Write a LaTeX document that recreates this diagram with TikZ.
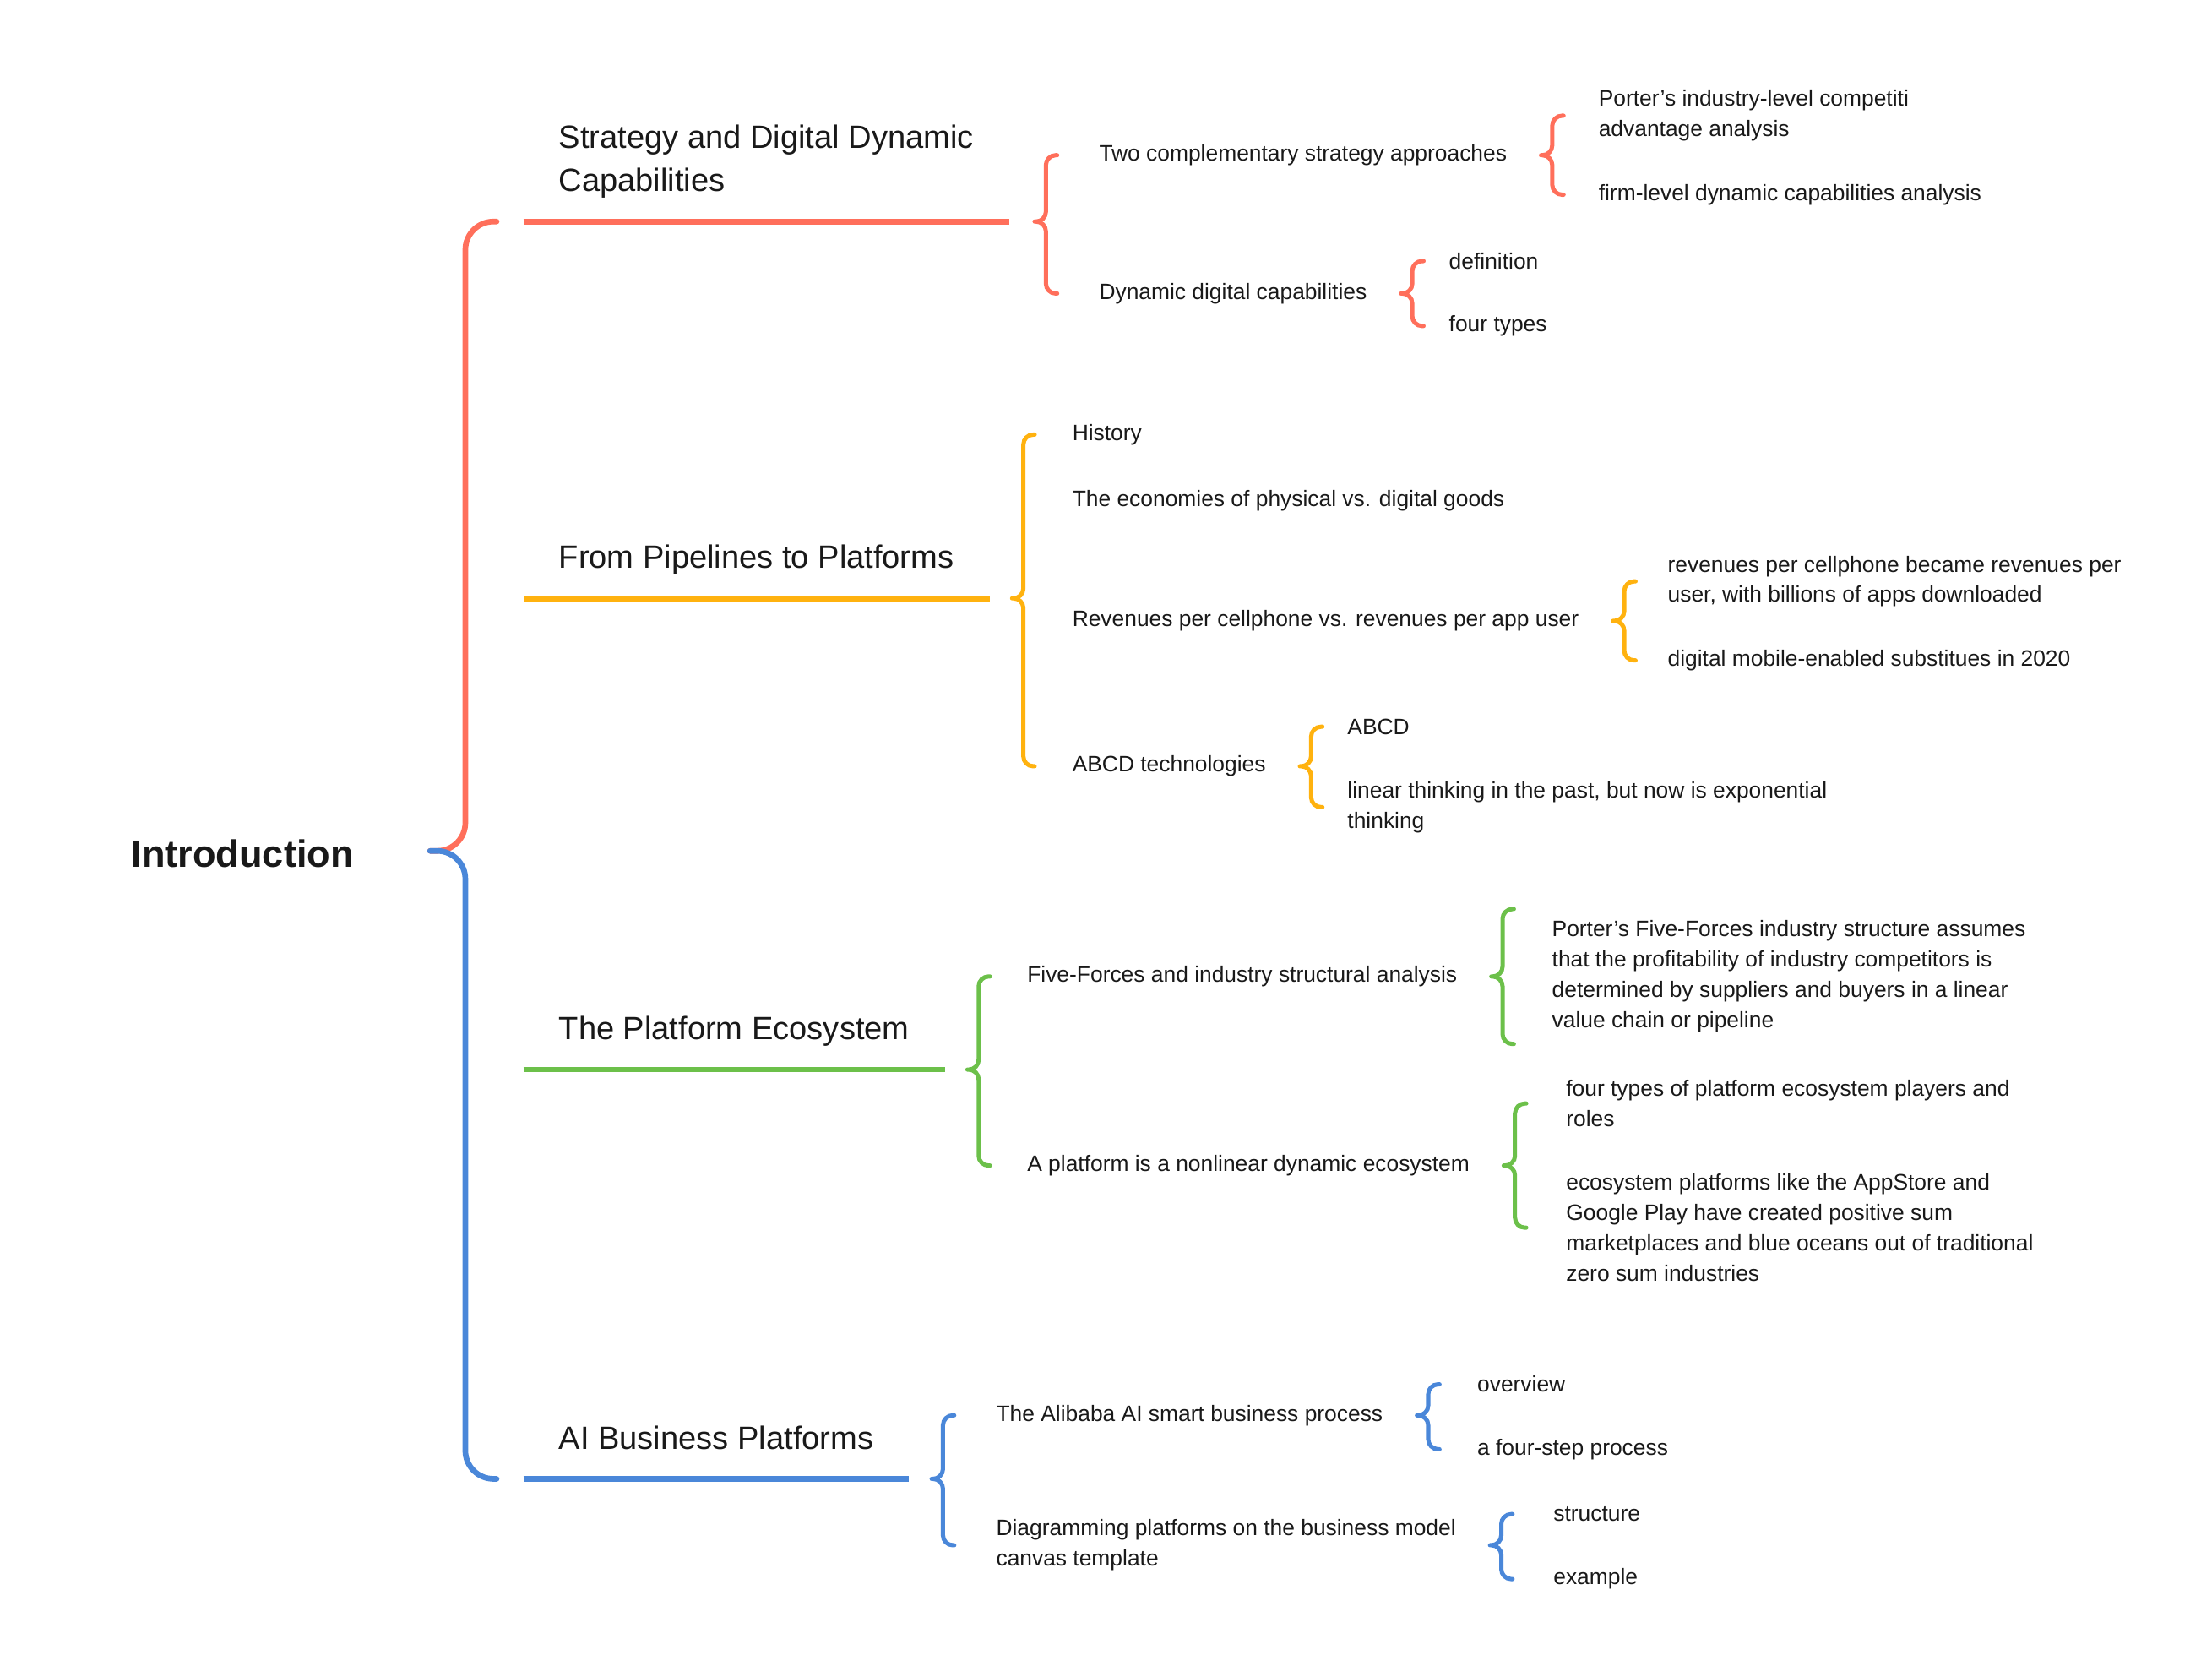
\documentclass[tikz,border=0pt]{standalone}
\usepackage{fontspec}
\setmainfont{Liberation Sans}
\usepackage{tikz}
\usetikzlibrary{calc}
\usepackage{xcolor}
\definecolor{mapred}{HTML}{FF6F5B}
\definecolor{mapyellow}{HTML}{FFB20F}
\definecolor{mapgreen}{HTML}{6CC04A}
\definecolor{mapblue}{HTML}{4A87D9}

% brace from a tip to the top and bottom child
\newcommand{\topicbrace}[4]{%
  \draw[subbrace, #1] let \p1=(#2), \p2=(#3), \p3=(#4) in
    (\p1) -- (\x1+8pt,\y1) -- (\x1+8pt,\y2) -- (\x1+16pt,\y2)
    (\p1) -- (\x1+8pt,\y1) -- (\x1+8pt,\y3) -- (\x1+16pt,\y3);
}

\begin{document}
\begin{tikzpicture}[
  x=1pt, y=-1pt,
  topic/.style={anchor=west, inner sep=0pt, align=left,
    font=\fontsize{15.8}{21.5}\selectfont, text=black!90},
  mainbranch/.style={anchor=south west, inner xsep=25pt, inner ysep=16pt,
    text depth=5pt, align=left, font=\fontsize{22.8}{31}\selectfont,
    text=black!90},
  rootnode/.style={anchor=west, inner sep=0pt,
    font=\fontsize{27}{32}\selectfont\bfseries, text=black!90},
  underline/.style={line width=4pt},
  bigbrace/.style={line width=4pt, rounded corners=20pt, line cap=round},
  subbrace/.style={line width=3pt, rounded corners=7pt, line cap=round}
]
  \useasboundingbox (0,0) rectangle (1568,1188);

  % Root
  \node[rootnode] (intro) at (93,605) {Introduction};
  \coordinate (tipR) at ($(intro.east)+(54,-2)$);

  % Main branches
  \node[mainbranch] (strat) at (371,157)
    {Strategy and Digital Dynamic\\Capabilities};
  \node[mainbranch] (pipe) at (371,424) {From Pipelines to Platforms};
  \node[mainbranch] (eco) at (371,758) {The Platform Ecosystem};
  \node[mainbranch] (aibiz) at (371,1048) {AI Business Platforms};
  \draw[underline, mapred] (strat.south west) -- (strat.south east);
  \draw[underline, mapyellow] (pipe.south west) -- (pipe.south east);
  \draw[underline, mapgreen] (eco.south west) -- (eco.south east);
  \draw[underline, mapblue] (aibiz.south west) -- (aibiz.south east);

  \draw[bigbrace, mapred] let \p1=(tipR), \p2=(strat.south west) in
    (\p1) -- (\x1+25pt,\y1) -- (\x1+25pt,\y2) -- (\x2-19pt,\y2);
  \draw[bigbrace, mapblue] let \p1=(tipR), \p2=(aibiz.south west) in
    (\p1) -- (\x1+25pt,\y1) -- (\x1+25pt,\y2) -- (\x2-19pt,\y2);

  % Strategy and Digital Dynamic Capabilities
  \node[topic] (twoc) at (779,110) {Two complementary strategy approaches};
  \node[topic] (ddc) at (779,208) {Dynamic digital capabilities};
  \node[topic] (portera) at (1133,82)
    {Porter's industry-level competiti\\advantage analysis};
  \node[topic] (firm) at (1133,138) {firm-level dynamic capabilities analysis};
  \node[topic] (defn) at (1027,185) {definition};
  \node[topic] (fourt) at (1027,231) {four types};
  \coordinate (tipA) at ($(strat.south east)+(18,0)$);
  \coordinate (tipB) at ($(twoc.east)+(24,0)$);
  \coordinate (tipC) at ($(ddc.east)+(24,0)$);
  \topicbrace{mapred}{tipA}{twoc.west}{ddc.west}
  \topicbrace{mapred}{tipB}{portera.west}{firm.west}
  \topicbrace{mapred}{tipC}{defn.west}{fourt.west}

  % From Pipelines to Platforms
  \node[topic] (hist) at (760,308) {History};
  \node[topic] (econ) at (760,355) {The economies of physical vs. digital goods};
  \node[topic] (rev) at (760,440) {Revenues per cellphone vs. revenues per app user};
  \node[topic] (abcd) at (760,543) {ABCD technologies};
  \node[topic] (revb) at (1182,412)
    {revenues per cellphone became revenues per\\user, with billions of apps downloaded};
  \node[topic] (subs) at (1182,468) {digital mobile-enabled substitues in 2020};
  \node[topic] (abcdc) at (955,515) {ABCD};
  \node[topic] (linear) at (955,572)
    {linear thinking in the past, but now is exponential\\thinking};
  \coordinate (tipD) at ($(pipe.south east)+(16,0)$);
  \coordinate (tipE) at ($(rev.east)+(24,0)$);
  \coordinate (tipF) at ($(abcd.east)+(24,0)$);
  \topicbrace{mapyellow}{tipD}{hist.west}{abcd.west}
  \topicbrace{mapyellow}{tipE}{revb.west}{subs.west}
  \topicbrace{mapyellow}{tipF}{abcdc.west}{linear.west}

  % The Platform Ecosystem
  \node[topic] (five) at (728,692) {Five-Forces and industry structural analysis};
  \node[topic] (nonl) at (728,826) {A platform is a nonlinear dynamic ecosystem};
  \node[topic] (porterb) at (1100,692)
    {Porter's Five-Forces industry structure assumes\\that the profitability of industry competitors is\\determined by suppliers and buyers in a linear\\value chain or pipeline};
  \node[topic] (fourp) at (1110,782)
    {four types of platform ecosystem players and\\roles};
  \node[topic] (ecop) at (1110,870)
    {ecosystem platforms like the AppStore and\\Google Play have created positive sum\\marketplaces and blue oceans out of traditional\\zero sum industries};
  \coordinate (tipG) at ($(eco.south east)+(16,0)$);
  \coordinate (tipH) at ($(five.east)+(24,0)$);
  \coordinate (tipI) at ($(nonl.east)+(24,0)$);
  \topicbrace{mapgreen}{tipG}{five.west}{nonl.west}
  \topicbrace{mapgreen}{tipH}{$(porterb.north west)+(0,-8)$}{$(porterb.south west)+(0,8)$}
  \topicbrace{mapgreen}{tipI}{fourp.west}{ecop.west}

  % AI Business Platforms
  \node[topic] (alib) at (706,1003) {The Alibaba AI smart business process};
  \node[topic] (diag) at (706,1095)
    {Diagramming platforms on the business model\\canvas template};
  \node[topic] (over) at (1047,981) {overview};
  \node[topic] (fstep) at (1047,1027) {a four-step process};
  \node[topic] (struc) at (1101,1073) {structure};
  \node[topic] (exam) at (1101,1119) {example};
  \coordinate (tipJ) at ($(aibiz.south east)+(16,0)$);
  \coordinate (tipK) at ($(alib.east)+(24,0)$);
  \coordinate (tipL) at ($(diag.east)+(24,0)$);
  \topicbrace{mapblue}{tipJ}{alib.west}{diag.west}
  \topicbrace{mapblue}{tipK}{over.west}{fstep.west}
  \topicbrace{mapblue}{tipL}{struc.west}{exam.west}
\end{tikzpicture}
\end{document}
